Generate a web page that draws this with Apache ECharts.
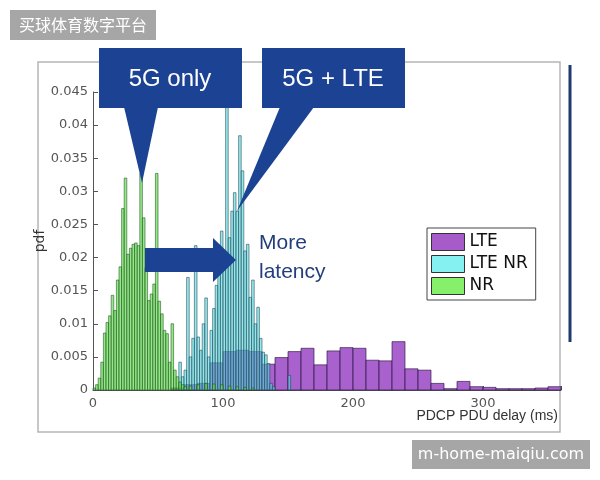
<!DOCTYPE html>
<html><head><meta charset="utf-8">
<script src="https://cdn.jsdelivr.net/npm/echarts@6/dist/echarts.min.js"></script>
<style>html,body{margin:0;padding:0;background:#fff}#c{width:600px;height:480px}</style>
</head><body><div id="c"></div>
<script>
// Bin starts (ms) and pdf values
const nrBins = [0,2,4,6,8,10,12,14,16,18,20,22,24,26,28,30,32,34,36,38,40,42,44,46,48,50,52,54,56,58,60,62,64,66,68,70,74,80,86,92,98,104,110,116,122];
const nrVals = [0.0003,0.0008,0.0018,0.0042,0.0086,0.0102,0.0112,0.0143,0.0120,0.0166,0.0186,0.0274,0.0320,0.0205,0.0214,0.0220,0.0222,0.0218,0.0327,0.0260,0.0185,0.0135,0.0145,0.0160,0.0327,0.0134,0.0115,0.0090,0.0085,0.0042,0.0100,0.0030,0.0020,0.0012,0.0008,0.0005,0.0006,0.0008,0.0010,0.0009,0.0008,0.0006,0.0005,0.0004,0.0003];
const lteNrBins = [66,68,70,72,74,76,78,80,82,84,86,88,90,92,94,96,98,100,102,104,106,108,110,112,114,116,118,120,122,124,126,128,130,132,134,136,138,150];
const lteNrVals = [0.0042,0.0020,0.0030,0.0170,0.0050,0.0078,0.0218,0.0080,0.0060,0.0100,0.0139,0.0050,0.0090,0.0123,0.0158,0.0190,0.0240,0.0200,0.0465,0.0230,0.0270,0.0298,0.0270,0.0384,0.0331,0.0210,0.0220,0.0140,0.0166,0.0100,0.0125,0.0078,0.0057,0.0053,0.0040,0.0010,0.0005,0.0022];
const lteBins = [60,70,80,90,100,110,120,130,140,150,160,170,180,190,200,210,220,230,240,250,260,270,280,290,300,310,320,330,340,350];
const lteVals = [0.0003,0.0008,0.0010,0.0041,0.0058,0.0060,0.0058,0.0039,0.0049,0.0058,0.0063,0.0038,0.0059,0.0064,0.0063,0.0045,0.0044,0.0073,0.0032,0.0030,0.0010,0.0002,0.0013,0.0005,0.0004,0.0002,0.0002,0.0002,0.0003,0.0005];
const xTicks = [0,100,200,300];
const yTicks = [0,0.005,0.01,0.015,0.02,0.025,0.03,0.035,0.04,0.045];
const seriesNames = ['LTE','LTE NR','NR'];

const chart = echarts.init(document.getElementById('c'), null, {renderer:'canvas'});

function histSeries(name, bins, vals, width, fill, stroke) {
  return {
    type: 'custom', name: name, clip: false,
    data: bins.map((b, i) => [b, vals[i]]),
    encode: {x: 0, y: 1},
    renderItem: function (params, api) {
      const x0 = api.value(0), v = api.value(1);
      const p0 = api.coord([x0, v]);
      const p1 = api.coord([x0 + width, 0]);
      return {type: 'rect', shape: {x: p0[0], y: p0[1], width: p1[0] - p0[0], height: p1[1] - p0[1]},
        style: {fill: fill, stroke: stroke, lineWidth: 0.8}};
    }
  };
}

const navy = '#1c4393';
chart.setOption({
  animation: false,
  backgroundColor: '#fff',
  grid: {left: 93, right: 39, top: 92, bottom: 90, containLabel: false, outerBoundsMode: 'none'},
  xAxis: {
    type: 'value', min: 0, max: 360, interval: 100,
    axisLine: {show: true, lineStyle: {color: '#555', width: 1}},
    axisTick: {show: true, inside: true, length: 4, lineStyle: {color: '#555'}},
    axisLabel: {color: '#555', fontSize: 13, fontFamily: 'DejaVu Sans', margin: 7,
      formatter: v => xTicks.includes(v) ? String(v) : ''},
    splitLine: {show: false},
    name: 'PDCP PDU delay (ms)', nameLocation: 'end', nameGap: -3, nameMoveOverlap: false,
    nameTextStyle: {color: '#333', fontSize: 14, fontFamily: 'Liberation Sans', align: 'right', verticalAlign: 'top', padding: [19, 0, 0, 0]}
  },
  yAxis: {
    type: 'value', min: 0, max: 0.045, interval: 0.005,
    axisLine: {show: true, lineStyle: {color: '#555', width: 1}},
    axisTick: {show: true, inside: true, length: 5, lineStyle: {color: '#555'}},
    axisLabel: {color: '#555', fontSize: 13, fontFamily: 'DejaVu Sans', margin: 5,
      formatter: v => { const t = yTicks.find(k => Math.abs(k - v) < 1e-9); return t === undefined ? '' : String(+t.toFixed(3)); }},
    splitLine: {show: false},
    name: 'pdf', nameLocation: 'middle', nameGap: 46, nameRotate: 90, nameMoveOverlap: false,
    nameTextStyle: {color: '#333', fontSize: 14, fontFamily: 'DejaVu Sans'}
  },
  legend: {
    orient: 'vertical', left: 427, top: 228,
    padding: [5, 8, 5, 4], itemGap: 4, itemWidth: 33, itemHeight: 17,
    borderColor: '#444', borderWidth: 1, backgroundColor: '#fff',
    textStyle: {color: '#111', fontSize: 17, fontFamily: 'DejaVu Sans'},
    data: [
      {name: seriesNames[0], icon: 'rect', itemStyle: {color: '#a75bc9', borderColor: '#333', borderWidth: 1}},
      {name: seriesNames[1], icon: 'rect', itemStyle: {color: '#86f1f1', borderColor: '#333', borderWidth: 1}},
      {name: seriesNames[2], icon: 'rect', itemStyle: {color: '#86f06a', borderColor: '#333', borderWidth: 1}}
    ]
  },
  series: [
    histSeries(seriesNames[0], lteBins, lteVals, 10, 'rgba(160,80,200,0.9)', 'rgba(40,20,60,0.8)'),
    histSeries(seriesNames[1], lteNrBins, lteNrVals, 2, 'rgba(80,215,225,0.6)', 'rgba(30,70,80,0.7)'),
    histSeries(seriesNames[2], nrBins, nrVals, 2, 'rgba(90,220,70,0.65)', 'rgba(30,80,30,0.7)')
  ],
  graphic: [
    {type: 'rect', shape: {x: 38, y: 62, width: 522, height: 370}, style: {fill: 'none', stroke: '#b5b5b5', lineWidth: 1.5}, z: -1},
    {type: 'rect', shape: {x: 568.5, y: 65, width: 3, height: 277}, style: {fill: '#1e3a6e'}},
    {type: 'rect', shape: {x: 10, y: 10, width: 146, height: 30}, style: {fill: '#a6a6a6'}},
    {type: 'text', x: 83, y: 25, style: {text: '买球体育数字平台', fill: '#fff', font: '16px "Noto Sans CJK SC"', textAlign: 'center', textVerticalAlign: 'middle'}},
    {type: 'rect', shape: {x: 412, y: 440, width: 178, height: 29}, style: {fill: '#a6a6a6'}},
    {type: 'text', x: 501, y: 455, style: {text: 'm-home-maiqiu.com', fill: '#fff', font: '16px "DejaVu Sans"', textAlign: 'center', textVerticalAlign: 'middle'}},
    // callout 1
    {type: 'rect', z: 100, shape: {x: 99, y: 48, width: 143, height: 60}, style: {fill: navy}},
    {type: 'polygon', z: 100, shape: {points: [[124, 107], [158, 107], [142, 183]]}, style: {fill: navy}},
    {type: 'text', z: 101, x: 170, y: 79, style: {text: '5G only', fill: '#fff', font: '24px "Liberation Sans"', textAlign: 'center', textVerticalAlign: 'middle'}},
    // callout 2
    {type: 'rect', z: 100, shape: {x: 262, y: 48, width: 143, height: 60}, style: {fill: navy}},
    {type: 'polygon', z: 100, shape: {points: [[280, 107], [314, 107], [237, 211]]}, style: {fill: navy}},
    {type: 'text', z: 101, x: 333, y: 79, style: {text: '5G + LTE', fill: '#fff', font: '24px "Liberation Sans"', textAlign: 'center', textVerticalAlign: 'middle'}},
    // arrow
    {type: 'polygon', z: 100, shape: {points: [[145, 248], [213, 248], [213, 238], [236, 260], [213, 282], [213, 272], [145, 272]]}, style: {fill: navy}},
    {type: 'text', z: 101, x: 259, y: 243, style: {text: 'More', fill: '#223f7c', font: '21px "Liberation Sans"', textAlign: 'left', textVerticalAlign: 'middle'}},
    {type: 'text', z: 101, x: 259, y: 272, style: {text: 'latency', fill: '#223f7c', font: '21px "Liberation Sans"', textAlign: 'left', textVerticalAlign: 'middle'}}
  ]
});
</script>
</body></html>
